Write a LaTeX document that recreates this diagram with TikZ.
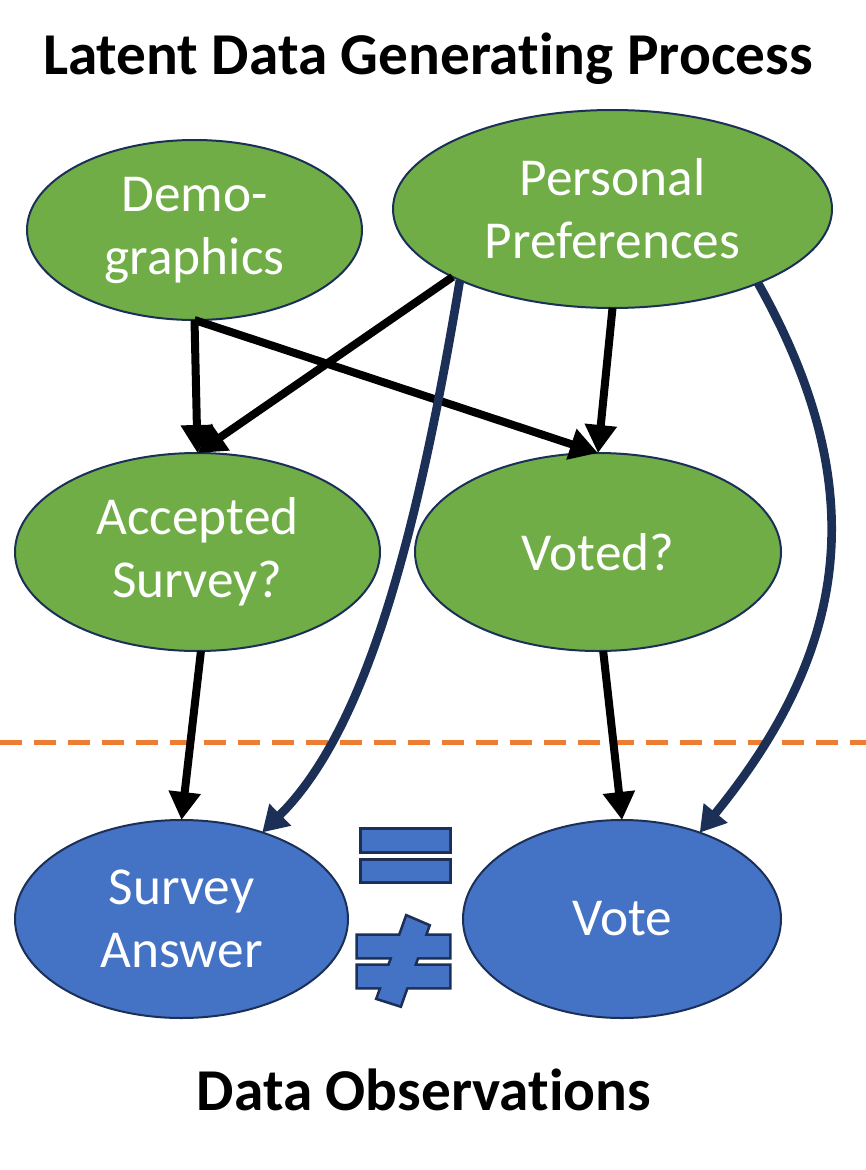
\documentclass[tikz,border=0pt]{standalone}
\usepackage{fontspec}
\setmainfont{Carlito}[Ligatures={TeX,NoCommon}]
\usetikzlibrary{arrows.meta,shapes.geometric}
\definecolor{ngreen}{HTML}{70AD47}
\definecolor{nblue}{HTML}{4472C4}
\definecolor{darknavy}{HTML}{1B2F57}
\definecolor{dorange}{HTML}{ED7D31}
\tikzset{
  blob/.style={ellipse, draw=darknavy, line width=1.5pt, inner sep=0pt, outer sep=0pt,
    text=white, align=center, font=\fontsize{40}{47.25}\selectfont},
  latent/.style={blob, fill=ngreen},
  observed/.style={blob, fill=nblue},
  causalarrow/.style={line width=6pt, draw=black, -{Triangle[length=21pt,width=23pt]}},
  directarrow/.style={line width=6.5pt, draw=darknavy, -{Triangle[length=19pt,width=22pt]}},
  heading/.style={font=\fontsize{44.5}{52}\selectfont\bfseries, anchor=base, inner sep=0pt},
  symline/.style={draw=darknavy, fill=darknavy, line width=4pt, line join=miter},
  symfill/.style={fill=nblue}
}
\begin{document}
\begin{tikzpicture}[x=0.75pt,y=-0.75pt]
\useasboundingbox (0,0) rectangle (866,1170);

\node[heading] (title) at (428,75) {Latent Data Generating Process};
\node[heading] (obs) at (424,1110) {Data Observations};

\node[latent, minimum width=251.25pt, minimum height=135pt] (dem) at (194.5,230) {Demo-\\graphics};
\node[latent, minimum width=329.25pt, minimum height=148.5pt] (pp) at (612.5,209) {Personal\\Preferences};
\node[latent, minimum width=273.75pt, minimum height=148.5pt] (acc) at (197.5,552) {Accepted\\Survey?};
\node[latent, minimum width=274.5pt, minimum height=148.5pt] (vot) at (598,552) {Voted?};
\node[observed, minimum width=249.75pt, minimum height=148.5pt] (sa) at (181.5,919) {Survey\\Answer};
\node[observed, minimum width=238.5pt, minimum height=148.5pt] (vote) at (622,919) {Vote};

% separator
\coordinate (dl) at (0,742);
\coordinate (dr) at (866,742);
\draw[dorange, line width=3.75pt, dash pattern=on 16.5pt off 9pt] (dl) -- (dr);

% causal arrows
\draw[causalarrow] (dem.south) -- (acc.north);
\draw[causalarrow] (dem.south) -- (vot.north);
\draw[causalarrow] (pp.203.7) -- (acc.north);
\draw[causalarrow] (pp.south) -- (vot.north);
\draw[causalarrow] (acc.-88) -- (sa.north);
\draw[causalarrow] (vot.-87) -- (vote.north);

% direct influence curves
\draw[directarrow] (pp.205) .. controls (418,532) and (367,729) .. (sa.47);
\draw[directarrow] (pp.333.4) .. controls (880,500) and (840,660) .. (vote.48.2);

% = and != symbols (outline of the union, then fill)
\foreach \s in {symline, symfill}{
  \path[\s] (362,830) -- (449,830) -- (449,851) -- (362,851) -- cycle
            (362,861) -- (449,861) -- (449,881) -- (362,881) -- cycle;
  \path[\s] (358,936) -- (449,936) -- (449,957) -- (358,957) -- cycle
            (358,966) -- (449,966) -- (449,987) -- (358,987) -- cycle
            (407,917) -- (428,926) -- (400,1005) -- (378,998) -- cycle;
}
\end{tikzpicture}
\end{document}
